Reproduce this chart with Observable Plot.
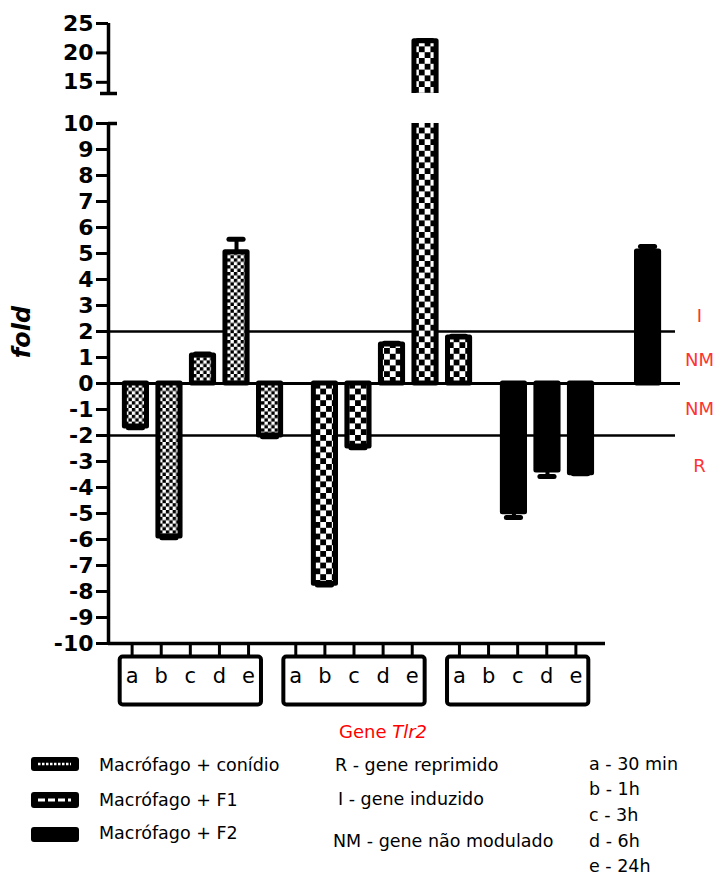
<!DOCTYPE html>
<html>
<head>
<meta charset="utf-8">
<script src="https://cdn.jsdelivr.net/npm/d3@7"></script>
<script src="https://cdn.jsdelivr.net/npm/@observablehq/plot@0.6"></script>
<style>
  body { margin: 0; background: #fff; }
  #chart { position: relative; width: 717px; height: 879px; overflow: hidden; background: #fff;
           font-family: "DejaVu Sans", sans-serif; color: #000; }
  .txt { position: absolute; white-space: nowrap; line-height: 1; }
</style>
</head>
<body>
<svg width="0" height="0" style="position:absolute">
  <defs>
    <pattern id="pat-conidio" patternUnits="userSpaceOnUse" width="6.8" height="6.8">
      <rect width="6.8" height="6.8" fill="#fff"/>
      <rect width="3.4" height="3.4" fill="#000"/>
      <rect x="3.4" y="3.4" width="3.4" height="3.4" fill="#000"/>
    </pattern>
    <pattern id="pat-f1" patternUnits="userSpaceOnUse" width="11.6" height="11.6">
      <rect width="11.6" height="11.6" fill="#fff"/>
      <rect width="5.8" height="5.8" fill="#000"/>
      <rect x="5.8" y="5.8" width="5.8" height="5.8" fill="#000"/>
    </pattern>
  </defs>
</svg>
<div id="chart"></div>
<script>
// ---------------- data ----------------
const groups = ["Macrófago + conídio", "Macrófago + F1", "Macrófago + F2"];
const times = ["a", "b", "c", "d", "e"];
const timeLabels = ["a - 30 min", "b - 1h", "c - 3h", "d - 6h", "e - 24h"];

const conidioFold = [-1.65, -5.88, 1.08, 5.05, -2.0];
const conidioErr  = [0.05, 0.05, 0.05, 0.5, 0.05];
const f1Fold      = [-7.7, -2.42, 1.5, 22.0, 1.77];
const f1Err       = [0.05, 0.05, 0.05, 0.1, 0.05];
const f2Fold      = [-4.95, -3.35, -3.45, 0, 5.08];
const f2Err       = [0.2, 0.23, 0.02, 0, 0.19];

const lowerTicks = [-10, -9, -8, -7, -6, -5, -4, -3, -2, -1, 0, 1, 2, 3, 4, 5, 6, 7, 8, 9, 10];
const upperTicks = [15, 20, 25];
const lowerDomain = [-10, 10];
const upperDomain = [13.1, 25];
const thresholds = [2, -2];
const zoneLabels = ["I", "NM", "NM", "R"];
const zoneY = [2.6, 0.9, -1.0, -3.2];
const statusLegend = ["R - gene reprimido", "I - gene induzido", "NM - gene não modulado"];
const axisTitle = "fold";
const geneTitle = ["Gene ", "Tlr2"];

// ---------------- build ----------------
const series = [conidioFold, f1Fold, f2Fold];
const errs = [conidioErr, f1Err, f2Err];
const rows = groups.flatMap((g, gi) => times.map((t, ti) => ({group: g, time: t, fold: series[gi][ti], err: errs[gi][ti]})));
const fills = ["url(#pat-conidio)", "url(#pat-f1)", "#000"];

const chart = document.getElementById("chart");
const W = 717;
const baseStyle = {position: "absolute", left: "0px", top: "0px", background: "transparent", overflow: "visible",
                   fontFamily: "'DejaVu Sans', sans-serif"};

function barMarks() {
  const marks = [];
  groups.forEach((g, gi) => {
    const data = rows.filter(d => d.group === g);
    const nz = data.filter(d => d.fold !== 0);
    marks.push(Plot.barY(nz, {fx: "group", x: "time", y: "fold", fill: fills[gi], stroke: "#000",
      strokeWidth: 5, strokeLinejoin: "round", insetLeft: 2, insetRight: 2, clip: true}));
    const withErr = nz.filter(d => d.err > 0);
    const tip = d => d.fold + Math.sign(d.fold) * d.err;
    marks.push(Plot.ruleX(withErr, {fx: "group", x: "time", y1: "fold", y2: tip, strokeWidth: 4, clip: true}));
    marks.push(Plot.tickY(withErr, {fx: "group", x: "time", y: tip, strokeWidth: 5, strokeLinecap: "round",
      insetLeft: 6, insetRight: 6, clip: true}));
  });
  return marks;
}

function barPlot(domain, marginTop, height, marginBottom) {
  return Plot.plot({
    width: W, height, marginTop, marginBottom, marginLeft: 108, marginRight: 42,
    style: baseStyle,
    fx: {domain: groups, paddingInner: 0.1, paddingOuter: 0.05, round: false, axis: null, label: null},
    x: {domain: times, paddingInner: 0.22, paddingOuter: 0.147, round: false, axis: null},
    y: {domain, axis: null},
    marks: barMarks()
  });
}

const axisOpts = {tickSize: 12, tickPadding: 3, fontSize: 22, fontWeight: "bold", strokeWidth: 3,
                  tickFormat: d => String(d), label: null};

// lower overlay (axis, thresholds, zone labels) — drawn beneath bars
const lowerOverlay = Plot.plot({
  width: W, height: 648, marginTop: 123, marginBottom: 5, marginLeft: 108, marginRight: 42,
  style: baseStyle,
  x: {domain: [0, 1], axis: null},
  y: {domain: lowerDomain, axis: null},
  marks: [
    Plot.ruleY(thresholds, {strokeWidth: 2.5}),
    Plot.ruleY([0], {strokeWidth: 3, insetRight: -5}),
    Plot.ruleY([lowerDomain[0]], {strokeWidth: 3.5, insetRight: 70}),
    Plot.ruleX([0], {y1: lowerDomain[0], y2: lowerDomain[1], strokeWidth: 3.5}),
    Plot.ruleY([lowerDomain[1]], {x1: 0, x2: 0, insetRight: -9, strokeWidth: 3.5}),
    Plot.axisY({ticks: lowerTicks, ...axisOpts}),
    Plot.text(zoneLabels.map((t, i) => ({t, y: zoneY[i]})), {y: "y", text: "t", frameAnchor: "right",
      dx: 24, textAnchor: "middle", fill: "#ff3333", fontSize: 18})
  ]
});

const lowerBars = barPlot(lowerDomain, 123, 648, 5);
const upperBars = barPlot(upperDomain, 23, 95, 2);

const upperOverlay = Plot.plot({
  width: W, height: 95, marginTop: 23, marginBottom: 2, marginLeft: 108, marginRight: 42,
  style: baseStyle,
  x: {domain: [0, 1], axis: null},
  y: {domain: upperDomain, axis: null},
  marks: [
    Plot.ruleX([0], {y1: upperDomain[0], y2: upperDomain[1], strokeWidth: 3.5}),
    Plot.ruleY([upperDomain[0]], {x1: 0, x2: 0, insetLeft: -8, insetRight: -9, strokeWidth: 3.5}),
    Plot.axisY({ticks: upperTicks, ...axisOpts})
  ]
});

// category axis with boxed letters
const catAxis = Plot.plot({
  width: W, height: 706, marginTop: 643, marginBottom: 2, marginLeft: 108, marginRight: 118,
  style: baseStyle,
  fx: {domain: groups, paddingInner: 0.1, paddingOuter: 0.05, round: false, axis: null, label: null},
  x: {type: "point", domain: times, padding: 0.53, round: false, axis: null},
  marks: [
    Plot.frame({stroke: "#000", strokeWidth: 4, insetTop: 13, insetLeft: 3, insetRight: 3, rx: 3}),
    Plot.ruleX(rows, {fx: "group", x: "time", insetBottom: 48, strokeWidth: 3}),
    Plot.text(rows, {fx: "group", x: "time", text: "time", frameAnchor: "bottom", dy: -22, fontSize: 21})
  ]
});

[lowerOverlay, lowerBars, upperBars, upperOverlay, catAxis].forEach(n => chart.appendChild(n));

// ---------------- HTML texts ----------------
function addText(txt, left, top, css) {
  const el = document.createElement("div");
  el.className = "txt";
  el.textContent = txt;
  el.style.left = left + "px";
  el.style.top = top + "px";
  Object.assign(el.style, css || {});
  chart.appendChild(el);
  return el;
}

// y-axis title
addText(axisTitle, 22, 332, {fontSize: "24px", fontWeight: "bold", fontStyle: "italic",
  transform: "translate(-50%, -50%) rotate(-90deg)"});

// Gene Tlr2
const gene = addText("", 383, 732, {fontSize: "18px", color: "#ff0000", transform: "translate(-50%, -50%)"});
gene.appendChild(document.createTextNode(geneTitle[0]));
const it = document.createElement("i"); it.textContent = geneTitle[1]; gene.appendChild(it);

// legend: groups with swatches
const legFs = 17.5;
const swatchTops = [757, 792, 827];
const swatchH = [14, 16, 15];
const groupTextY = [766, 801, 834];
groups.forEach((g, i) => {
  const ns = "http://www.w3.org/2000/svg";
  const s = document.createElementNS(ns, "svg");
  s.setAttribute("width", 48); s.setAttribute("height", swatchH[i]);
  s.style.position = "absolute"; s.style.left = "31px"; s.style.top = swatchTops[i] + "px";
  const r = document.createElementNS(ns, "rect");
  r.setAttribute("width", 48); r.setAttribute("height", swatchH[i]); r.setAttribute("rx", 3); r.setAttribute("fill", "#000");
  s.appendChild(r);
  if (i < 2) {
    const l = document.createElementNS(ns, "line");
    l.setAttribute("x1", 7); l.setAttribute("x2", 40);
    l.setAttribute("y1", swatchH[i] / 2); l.setAttribute("y2", swatchH[i] / 2);
    l.setAttribute("stroke", "#fff");
    l.setAttribute("stroke-width", i === 0 ? 2.5 : 3);
    l.setAttribute("stroke-dasharray", i === 0 ? "2.5 1.5" : "7 3");
    s.appendChild(l);
  }
  chart.appendChild(s);
  addText(g, 99, groupTextY[i] - legFs * 0.5, {fontSize: legFs + "px"});
});

const statusX = [335, 338, 333];
const statusY = [766, 800, 842];
statusLegend.forEach((t, i) => addText(t, statusX[i], statusY[i] - legFs * 0.5, {fontSize: legFs + "px"}));

const timeY = [765, 790, 816, 842, 867];
timeLabels.forEach((t, i) => addText(t, 589, timeY[i] - legFs * 0.5, {fontSize: legFs + "px"}));
</script>
</body>
</html>
